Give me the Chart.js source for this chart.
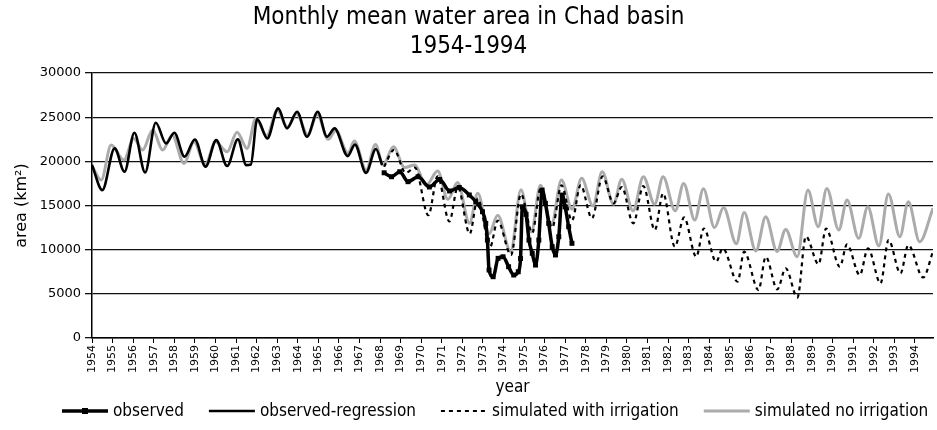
<!DOCTYPE html>
<html>
<head>
<meta charset="utf-8">
<script src="https://cdn.jsdelivr.net/npm/chart.js@4/dist/chart.umd.min.js"></script>
<style>
  html, body { margin: 0; padding: 0; background: #fff; }
  #wrap { width: 937px; height: 430px; }
</style>
</head>
<body>
<div id="wrap"><canvas id="c" width="937" height="430"></canvas></div>
<script>
// ---- data (decimal year, km²) ----
const titleLines = ['Monthly mean water area in Chad basin', '1954-1994'];
const seriesNames = ['observed', 'observed-regression', 'simulated with irrigation', 'simulated no irrigation'];

const observedYears = [1968.2,1968.56,1968.96,1969.36,1969.85,1970.4,1970.9,1971.38,1971.85,1972.34,1972.66,1972.98,1973.14,1973.22,1973.3,1973.5,1973.74,1973.98,1974.25,1974.5,1974.72,1974.83,1974.92,1975.1,1975.24,1975.4,1975.56,1975.72,1975.88,1976.04,1976.2,1976.37,1976.53,1976.69,1976.85,1977.0,1977.17,1977.33];
const observedArea = [18710,18260,18830,17700,18260,17100,17960,16650,17050,16200,15430,14300,12980,11090,7700,6940,9020,9200,8070,7130,7500,9000,14860,14000,11090,9590,8260,11090,16750,15250,12980,10340,9400,11470,16190,14860,12600,10720];

const regressionYears = [1954.0,1954.5,1955.1,1955.58,1956.06,1956.58,1957.1,1957.6,1958.0,1958.5,1959.0,1959.52,1960.04,1960.57,1961.09,1961.5,1961.72,1962.03,1962.52,1963.05,1963.48,1963.97,1964.45,1964.97,1965.42,1965.79,1966.43,1966.78,1967.32,1967.8,1968.1];
const regressionArea = [19600,16750,21470,18830,23240,18750,24380,22040,23240,20530,22480,19390,22410,19470,22490,19580,19650,24790,22600,26000,23740,25620,22790,25620,22790,23740,20600,21900,18700,21400,19600];

const irrigationYears = [1968.2,1968.68,1969.25,1969.7,1970.35,1970.8,1971.37,1971.78,1972.36,1972.75,1973.35,1973.72,1974.37,1974.85,1975.4,1975.8,1976.37,1976.82,1977.33,1977.75,1978.3,1978.82,1979.35,1979.75,1980.31,1980.8,1981.36,1981.76,1982.33,1982.78,1983.37,1983.74,1984.34,1984.66,1985.38,1985.7,1986.4,1986.75,1987.31,1987.72,1988.29,1988.7,1989.32,1989.68,1990.35,1990.7,1991.32,1991.72,1992.33,1992.72,1993.3,1993.68,1994.4,1994.88];
const irrigationArea = [19400,21300,18700,19300,13900,18300,13200,17100,11800,15800,10300,13300,9400,16300,11900,16900,12500,17300,13300,17300,13550,18300,15250,17100,12980,17200,12230,16380,10340,13650,9200,12400,8640,10150,6370,9770,5430,9200,5500,7890,4580,11500,8350,12400,8070,10600,7130,10150,6190,11090,7320,10530,6850,9800];

const noIrrigationYears = [1954.0,1954.45,1954.93,1955.55,1956.03,1956.46,1956.95,1957.43,1957.9,1958.47,1958.96,1959.5,1960.0,1960.57,1961.05,1961.54,1961.96,1962.5,1963.0,1963.5,1963.95,1964.48,1964.95,1965.48,1965.85,1966.45,1966.75,1967.33,1967.78,1968.15,1968.65,1969.2,1969.68,1970.25,1970.8,1971.3,1971.77,1972.35,1972.75,1973.3,1973.72,1974.35,1974.85,1975.35,1975.8,1976.33,1976.82,1977.33,1977.8,1978.35,1978.8,1979.35,1979.75,1980.3,1980.8,1981.35,1981.76,1982.35,1982.76,1983.3,1983.72,1984.26,1984.7,1985.32,1985.7,1986.27,1986.75,1987.3,1987.72,1988.28,1988.8,1989.3,1989.72,1990.3,1990.7,1991.27,1991.71,1992.25,1992.71,1993.27,1993.68,1994.23,1994.88];
const noIrrigationArea = [19500,17900,21850,20150,22600,21280,23550,21280,22970,19770,22220,19580,22220,21090,23290,21470,24870,22900,25800,23900,25400,23000,25300,22500,23500,20900,22300,19000,21900,19600,21650,19300,19600,17300,18900,15700,17600,13000,16400,11800,13900,9800,16800,12000,17300,12800,17900,14600,18080,14960,18830,15150,17990,14400,18260,15150,18260,14400,17510,13360,16900,12500,14770,10680,14200,9860,13730,9800,12300,9200,16750,12600,16940,12230,15620,11290,14860,10430,16300,11470,15430,10900,14700];

const yearMin = 1954, yearMax = 1994.88;
const areaMin = 0, areaMax = 30000, areaStep = 5000;

// ---- build chart ----
const pts = (xs, ys) => xs.map((x, i) => ({ x: x, y: ys[i] }));

const condensed = '"DejaVu Sans Condensed", "DejaVu Sans", sans-serif';
const wide = '"DejaVu Sans", Verdana, sans-serif';

const bottomLegend = {
  id: 'bottomLegend',
  afterDraw(chart) {
    const ctx = chart.ctx;
    ctx.save();
    ctx.font = '17px ' + condensed;
    ctx.textBaseline = 'middle';
    ctx.textAlign = 'left';
    let x = 62;
    const y = 411;
    chart.data.datasets.forEach(ds => {
      ctx.beginPath();
      ctx.setLineDash(ds.borderDash || []);
      ctx.lineWidth = ds.borderWidth;
      ctx.strokeStyle = ds.borderColor;
      ctx.moveTo(x, y);
      ctx.lineTo(x + 46, y);
      ctx.stroke();
      ctx.setLineDash([]);
      if (ds.pointRadius > 0) {
        ctx.fillStyle = ds.borderColor;
        ctx.fillRect(x + 20, y - 3, 6, 6);
      }
      ctx.fillStyle = '#000';
      ctx.fillText(ds.label, x + 51, y + 1);
      x += 51 + ctx.measureText(ds.label).width + 25;
    });
    ctx.restore();
  }
};

new Chart(document.getElementById('c'), {
  type: 'line',
  data: {
    datasets: [
      {
        label: seriesNames[0],
        data: pts(observedYears, observedArea),
        borderColor: '#000', backgroundColor: '#000',
        borderWidth: 3.5, pointStyle: 'rect', pointRadius: 3.5,
        pointBackgroundColor: '#000', pointBorderWidth: 0,
        cubicInterpolationMode: 'monotone', fill: false
      },
      {
        label: seriesNames[1],
        data: pts(regressionYears, regressionArea),
        borderColor: '#000', backgroundColor: '#000',
        borderWidth: 2.6, pointRadius: 0,
        cubicInterpolationMode: 'monotone', fill: false
      },
      {
        label: seriesNames[2],
        data: pts(irrigationYears, irrigationArea),
        borderColor: '#000', backgroundColor: '#000',
        borderWidth: 2.2, borderDash: [4, 4], pointRadius: 0,
        cubicInterpolationMode: 'monotone', fill: false
      },
      {
        label: seriesNames[3],
        data: pts(noIrrigationYears, noIrrigationArea),
        borderColor: '#ababab', backgroundColor: '#ababab',
        borderWidth: 3, pointRadius: 0,
        cubicInterpolationMode: 'monotone', fill: false
      }
    ]
  },
  options: {
    responsive: false,
    animation: false,
    devicePixelRatio: 1,
    layout: { padding: { left: 0, right: 0, top: 0, bottom: 28 } },
    plugins: {
      legend: { display: false },
      tooltip: { enabled: false },
      title: {
        display: true,
        text: titleLines,
        color: '#000',
        font: { family: condensed, size: 24, weight: 'normal', lineHeight: 1.21 },
        padding: { top: 3, bottom: 12 }
      }
    },
    scales: {
      x: {
        type: 'linear',
        min: yearMin, max: yearMax,
        afterFit(scale) { scale.height = 64; },
        border: { display: true, color: '#000', width: 1.5 },
        grid: { drawOnChartArea: false, drawTicks: true, tickLength: 5, color: '#000' },
        ticks: {
          stepSize: 1, autoSkip: false, includeBounds: false,
          minRotation: 90, maxRotation: 90, padding: 2,
          color: '#000', font: { family: wide, size: 11 },
          callback: v => Number.isInteger(v) ? String(v) : ''
        },
        title: {
          display: true, text: 'year', color: '#000',
          font: { family: condensed, size: 17 },
          padding: { top: 0, bottom: 4 }
        }
      },
      y: {
        min: areaMin, max: areaMax,
        afterFit(scale) { scale.width = 92; },
        border: { display: true, color: '#000', width: 1.5 },
        grid: { color: '#111', lineWidth: 1.3, tickLength: 7, drawTicks: true },
        ticks: {
          stepSize: areaStep, padding: 4, color: '#000',
          font: { family: wide, size: 13 },
          callback: v => String(v)
        },
        title: {
          display: true, text: 'area (km²)', color: '#000',
          font: { family: wide, size: 16 },
          padding: { top: 12, bottom: 0 }
        }
      }
    }
  },
  plugins: [bottomLegend]
});
</script>
</body>
</html>
